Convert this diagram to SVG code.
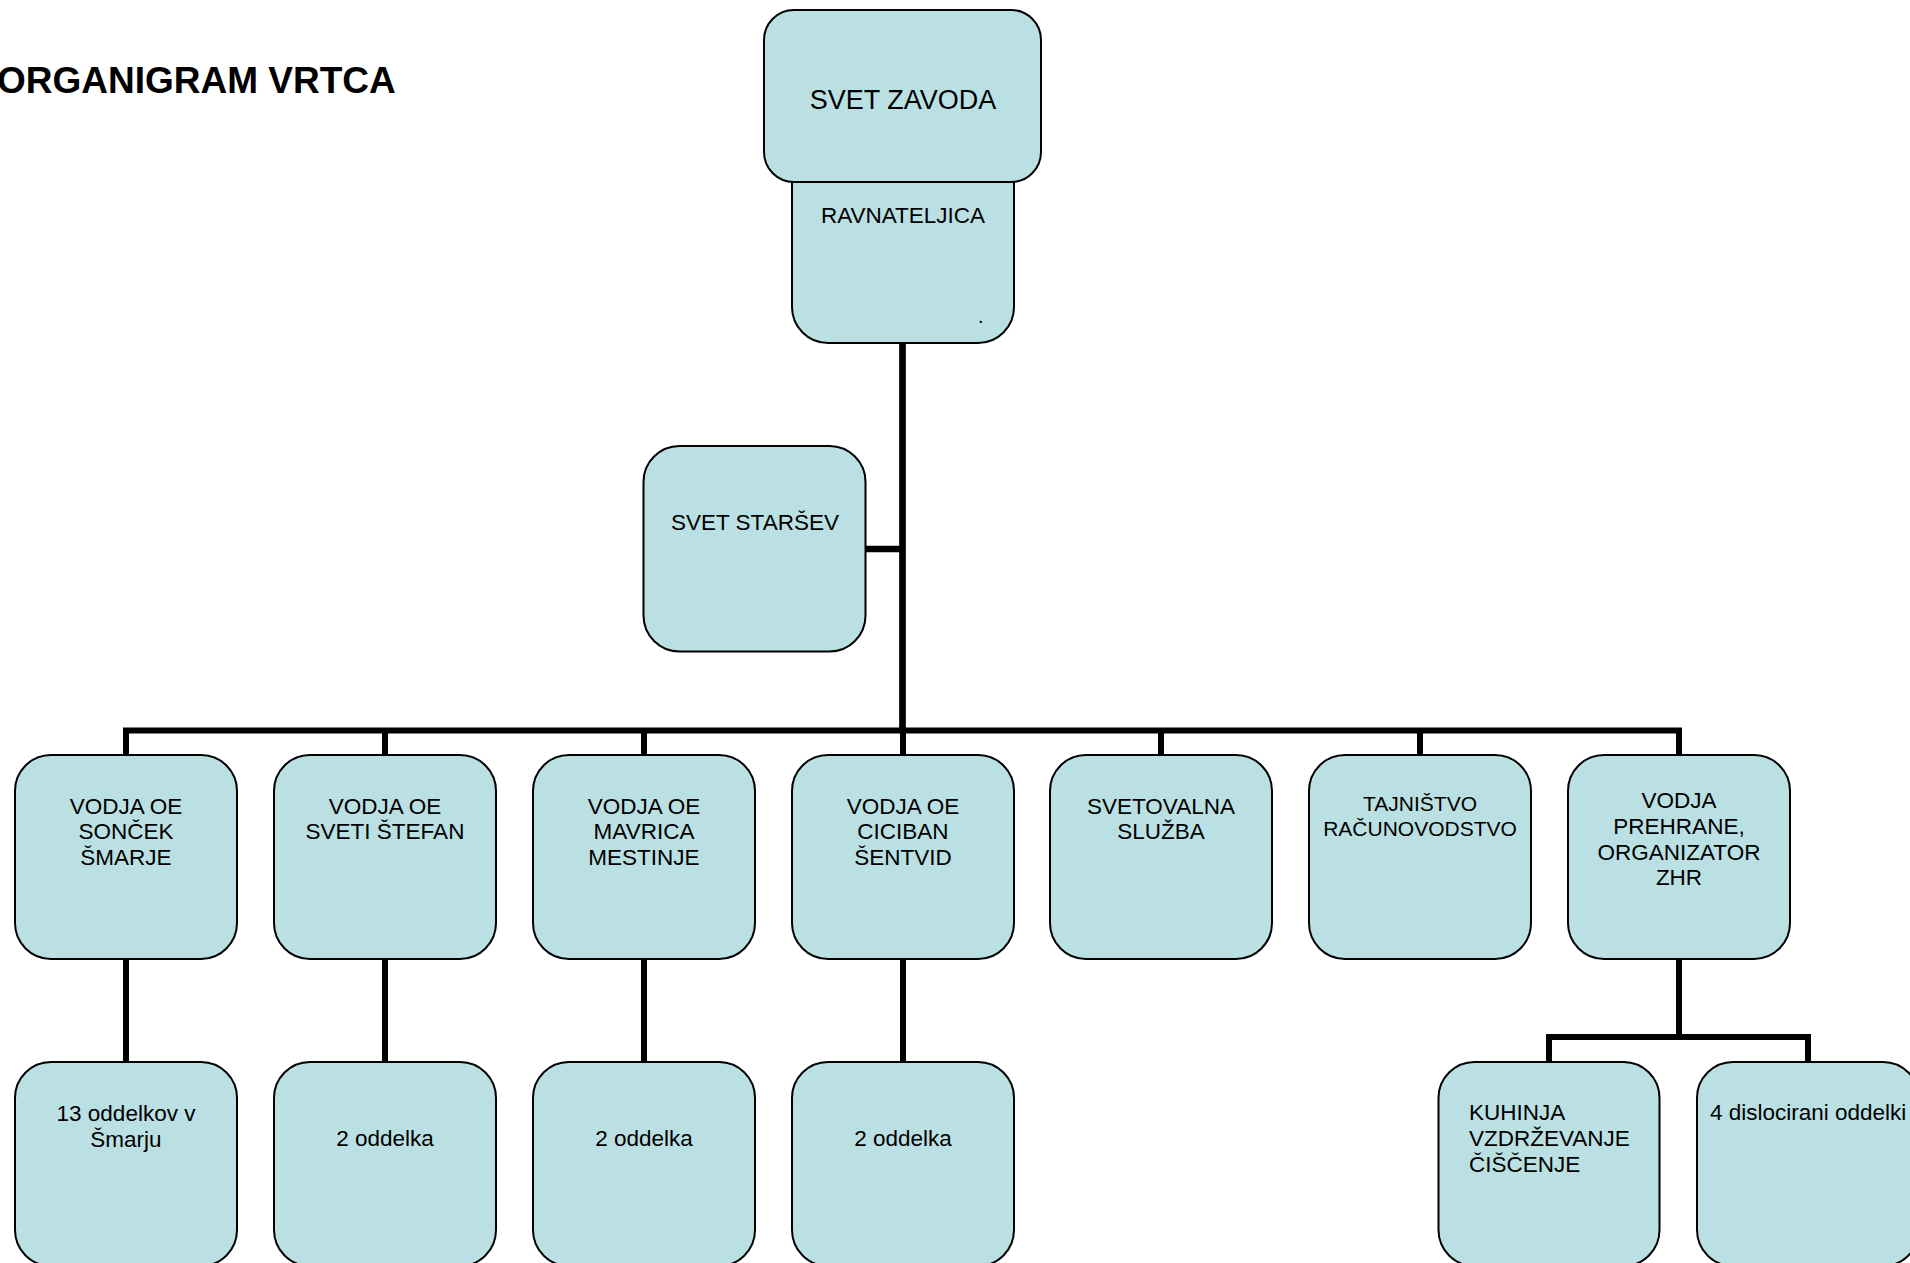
<svg xmlns="http://www.w3.org/2000/svg" width="1910" height="1263" viewBox="0 0 1910 1263">
<style>
.box{fill:#bae0e3;stroke:#000;stroke-width:2}
.t{font-family:"Liberation Sans",Arial,sans-serif;font-size:22.5px;fill:#000;text-anchor:middle}
.tl{font-family:"Liberation Sans",Arial,sans-serif;font-size:22.5px;fill:#000}
.c{stroke:#000;stroke-width:6;fill:none;stroke-linecap:butt}
</style>
<rect width="1910" height="1263" fill="#fff"/>
<text x="-3" y="93" style="font-family:'Liberation Sans',Arial,sans-serif;font-size:37px;font-weight:bold;fill:#000">ORGANIGRAM VRTCA</text>

<g id="connectors">
<line class="c" x1="902.5" y1="343" x2="902.5" y2="733" style="stroke-width:6.7"/>
<line class="c" x1="866" y1="549" x2="903" y2="549" style="stroke-width:6.7"/>
<line class="c" x1="123" y1="730.5" x2="1682" y2="730.5"/>
<line class="c" x1="126" y1="730" x2="126" y2="755"/>
<line class="c" x1="385" y1="731" x2="385" y2="755"/>
<line class="c" x1="644" y1="731" x2="644" y2="755"/>
<line class="c" x1="903" y1="731" x2="903" y2="755"/>
<line class="c" x1="1161" y1="731" x2="1161" y2="755"/>
<line class="c" x1="1420" y1="731" x2="1420" y2="755"/>
<line class="c" x1="1679" y1="730" x2="1679" y2="755"/>
<line class="c" x1="126" y1="959" x2="126" y2="1062"/>
<line class="c" x1="385" y1="959" x2="385" y2="1062"/>
<line class="c" x1="644" y1="959" x2="644" y2="1062"/>
<line class="c" x1="903" y1="959" x2="903" y2="1062"/>
<line class="c" x1="1679" y1="959" x2="1679" y2="1037"/>
<polyline class="c" points="1549,1062 1549,1037 1808,1037 1808,1062"/>
</g>

<g id="ravnateljica">
<rect class="box" x="792" y="140" width="222" height="203" rx="36"/>
<text class="t" x="903" y="223">RAVNATELJICA</text>
<text class="tl" x="978" y="323" style="font-size:20px">.</text>
</g>
<g id="svet-zavoda">
<rect class="box" x="764" y="10" width="277" height="172" rx="30"/>
<text class="t" x="903" y="109" style="font-size:27px">SVET ZAVODA</text>
</g>
<g id="svet-starsev">
<rect class="box" x="643.5" y="446" width="222" height="205.5" rx="36"/>
<text class="t" x="755" y="530">SVET STARŠEV</text>
</g>

<g id="vodja-soncek">
<rect class="box" x="15" y="755" width="222" height="204" rx="36"/>
<text class="t" x="126" y="813.5">VODJA OE</text>
<text class="t" x="126" y="839.3">SONČEK</text>
<text class="t" x="126" y="865">ŠMARJE</text>
</g>
<g id="vodja-stefan">
<rect class="box" x="274" y="755" width="222" height="204" rx="36"/>
<text class="t" x="385" y="813.5">VODJA OE</text>
<text class="t" x="385" y="839.3">SVETI ŠTEFAN</text>
</g>
<g id="vodja-mavrica">
<rect class="box" x="533" y="755" width="222" height="204" rx="36"/>
<text class="t" x="644" y="813.5">VODJA OE</text>
<text class="t" x="644" y="839.3">MAVRICA</text>
<text class="t" x="644" y="865">MESTINJE</text>
</g>
<g id="vodja-ciciban">
<rect class="box" x="792" y="755" width="222" height="204" rx="36"/>
<text class="t" x="903" y="813.5">VODJA OE</text>
<text class="t" x="903" y="839.3">CICIBAN</text>
<text class="t" x="903" y="865">ŠENTVID</text>
</g>
<g id="svetovalna">
<rect class="box" x="1050" y="755" width="222" height="204" rx="36"/>
<text class="t" x="1161" y="813.5">SVETOVALNA</text>
<text class="t" x="1161" y="839.3">SLUŽBA</text>
</g>
<g id="tajnistvo">
<rect class="box" x="1309" y="755" width="222" height="204" rx="36"/>
<text class="t" x="1420" y="810.5" style="font-size:21px">TAJNIŠTVO</text>
<text class="t" x="1420" y="836.2" style="font-size:21px">RAČUNOVODSTVO</text>
</g>
<g id="vodja-prehrane">
<rect class="box" x="1568" y="755" width="222" height="204" rx="36"/>
<text class="t" x="1679" y="807.7">VODJA</text>
<text class="t" x="1679" y="833.6">PREHRANE,</text>
<text class="t" x="1679" y="859.5">ORGANIZATOR</text>
<text class="t" x="1679" y="885.4">ZHR</text>
</g>

<g id="oddelki-smarje">
<rect class="box" x="15" y="1062" width="222" height="204" rx="36"/>
<text class="t" x="126" y="1121">13 oddelkov v</text>
<text class="t" x="126" y="1146.5">Šmarju</text>
</g>
<g id="oddelka-stefan">
<rect class="box" x="274" y="1062" width="222" height="204" rx="36"/>
<text class="t" x="385" y="1145.5">2 oddelka</text>
</g>
<g id="oddelka-mavrica">
<rect class="box" x="533" y="1062" width="222" height="204" rx="36"/>
<text class="t" x="644" y="1145.5">2 oddelka</text>
</g>
<g id="oddelka-ciciban">
<rect class="box" x="792" y="1062" width="222" height="204" rx="36"/>
<text class="t" x="903" y="1145.5">2 oddelka</text>
</g>
<g id="kuhinja">
<rect class="box" x="1438.5" y="1062" width="221" height="204" rx="36"/>
<text class="tl" x="1469" y="1120">KUHINJA</text>
<text class="tl" x="1469" y="1146">VZDRŽEVANJE</text>
<text class="tl" x="1469" y="1172">ČIŠČENJE</text>
</g>
<g id="dislocirani">
<rect class="box" x="1697" y="1062" width="222" height="204" rx="36"/>
<text class="tl" x="1710" y="1120">4 dislocirani oddelki</text>
</g>
</svg>
